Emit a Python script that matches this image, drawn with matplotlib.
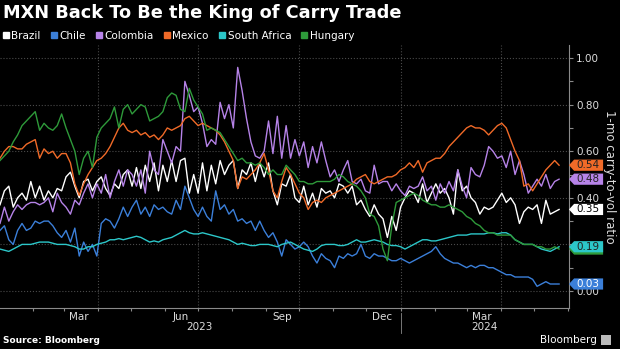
import matplotlib
matplotlib.use('Agg')
import matplotlib.pyplot as plt
import matplotlib.dates as mdates
from matplotlib.lines import Line2D
from matplotlib.patches import Polygon, Rectangle
from matplotlib.ticker import FixedLocator, NullFormatter, FuncFormatter
from matplotlib.transforms import blended_transform_factory
import pandas as pd

# sample dates (every 4 days, Jan 2023 to late May 2024)
dates = pd.date_range('2023-01-02', periods=128, freq='4D')

brazil = [.37, .43, .45, .36, .40, .42, .39, .47, .40, .45, .39, .43, .40, .44, .43, .49,
          .51, .45, .40, .47, .48, .43, .47, .49, .44, .41, .46, .44, .50, .52, .45, .53,
          .44, .54, .47, .55, .43, .54, .47, .56, .47, .56, .57, .42, .50, .42, .55, .43,
          .54, .46, .56, .50, .54, .56, .44, .52, .50, .55, .47, .55, .49, .55, .43, .37,
          .46, .45, .50, .40, .38, .45, .37, .42, .36, .44, .42, .43, .40, .46, .45, .42,
          .45, .37, .39, .35, .32, .37, .33, .31, .23, .32, .26, .36, .40, .43, .42, .38,
          .46, .38, .42, .46, .42, .44, .40, .33, .52, .43, .45, .40, .38, .33, .36, .35,
          .36, .39, .42, .38, .40, .37, .29, .34, .36, .35, .37, .29, .39, .33, .34, .35]

chile = [.26, .28, .22, .20, .26, .29, .26, .27, .30, .29, .30, .30, .28, .25, .23, .26,
         .21, .27, .15, .21, .17, .20, .15, .29, .31, .30, .27, .31, .36, .32, .36, .39,
         .33, .36, .32, .37, .35, .36, .34, .33, .39, .35, .45, .40, .35, .32, .36, .32,
         .30, .43, .35, .37, .33, .35, .30, .31, .29, .30, .26, .30, .26, .23, .25, .21,
         .15, .22, .20, .18, .19, .21, .19, .15, .12, .16, .14, .13, .10, .15, .14, .16,
         .15, .16, .20, .15, .14, .16, .15, .15, .14, .13, .13, .14, .13, .12, .13, .14,
         .15, .16, .17, .19, .16, .14, .13, .12, .12, .11, .10, .11, .10, .11, .11, .10,
         .10, .09, .08, .07, .07, .06, .06, .06, .06, .05, .02, .03, .04, .03, .03, .03]

colombia = [.29, .36, .30, .34, .37, .35, .37, .38, .38, .37, .38, .40, .34, .42, .38, .36,
            .33, .39, .37, .42, .46, .40, .46, .42, .50, .40, .47, .52, .45, .52, .50, .45,
            .52, .42, .60, .52, .50, .65, .60, .55, .62, .60, .90, .84, .77, .79, .72, .62,
            .65, .63, .81, .74, .80, .70, .96, .86, .74, .64, .58, .57, .60, .73, .59, .75,
            .57, .71, .57, .65, .58, .64, .53, .62, .55, .64, .56, .49, .52, .47, .52, .56,
            .47, .46, .48, .43, .42, .54, .46, .47, .47, .43, .46, .43, .41, .45, .44, .45,
            .49, .43, .45, .39, .46, .42, .47, .43, .52, .45, .40, .53, .50, .49, .54, .62,
            .60, .57, .58, .53, .60, .50, .56, .50, .42, .45, .48, .45, .50, .44, .47, .48]

mexico = [.57, .60, .62, .62, .61, .61, .63, .64, .65, .57, .61, .59, .60, .57, .59, .59,
          .55, .46, .41, .46, .50, .53, .56, .57, .59, .62, .66, .70, .72, .69, .68, .69,
          .67, .68, .66, .67, .65, .67, .70, .69, .70, .71, .74, .75, .73, .71, .72, .71,
          .70, .69, .67, .64, .60, .56, .44, .49, .48, .50, .52, .55, .59, .52, .43, .40,
          .47, .53, .50, .46, .42, .40, .35, .38, .39, .38, .40, .41, .42, .43, .44, .45,
          .46, .48, .49, .50, .47, .46, .47, .48, .49, .49, .50, .52, .53, .55, .53, .56,
          .51, .55, .56, .57, .57, .59, .62, .64, .66, .68, .70, .71, .70, .70, .69, .67,
          .69, .71, .72, .70, .65, .60, .56, .45, .46, .43, .46, .49, .52, .54, .56, .54]

south_africa = [.18, .175, .17, .18, .19, .20, .20, .20, .205, .21, .21, .21, .205, .20, .20, .20,
                .195, .19, .18, .18, .19, .19, .20, .205, .21, .22, .22, .225, .22, .225, .23, .235,
                .23, .22, .21, .215, .21, .22, .225, .23, .24, .25, .26, .25, .245, .245, .25, .245,
                .24, .235, .23, .225, .22, .21, .20, .205, .20, .195, .195, .20, .20, .20, .195, .19,
                .20, .205, .21, .20, .19, .18, .175, .17, .18, .195, .20, .20, .20, .195, .195, .20,
                .21, .22, .21, .21, .215, .22, .215, .21, .20, .195, .195, .19, .18, .19, .20, .21,
                .22, .22, .215, .215, .22, .225, .23, .235, .24, .24, .24, .245, .245, .245, .245, .25,
                .25, .245, .25, .25, .24, .22, .21, .20, .20, .20, .19, .18, .175, .17, .18, .19]

hungary = [.56, .58, .60, .64, .67, .71, .73, .75, .77, .69, .72, .70, .69, .71, .76, .70,
           .65, .60, .50, .57, .60, .53, .66, .70, .72, .74, .79, .70, .78, .80, .76, .78,
           .80, .79, .73, .74, .75, .77, .83, .85, .84, .78, .77, .87, .82, .79, .76, .69,
           .70, .69, .68, .65, .62, .59, .56, .57, .55, .55, .54, .55, .53, .50, .52, .50,
           .50, .54, .52, .50, .47, .47, .46, .46, .47, .47, .47, .47, .48, .50, .49, .47,
           .46, .45, .43, .40, .33, .32, .28, .18, .13, .28, .38, .39, .40, .41, .42, .41,
           .39, .38, .37, .37, .36, .36, .37, .36, .35, .34, .32, .31, .29, .28, .26, .25,
           .25, .24, .24, .24, .24, .22, .21, .20, .20, .20, .19, .19, .18, .18, .19, .18]

names = ['Brazil', 'Chile', 'Colombia', 'Mexico', 'South Africa', 'Hungary']
colors = ['#ffffff', '#3b7fd9', '#b683e8', '#f06a28', '#2cc7c9', '#2e9a3a']
tag_text = ['black', 'white', '#222222', '#222222', '#222222', None]
series = [brazil, chile, colombia, mexico, south_africa, hungary]

grid_c = '#4a4a4a'
axis_c = '#8a8a8a'
text_c = '#dddddd'

fig = plt.figure(figsize=(6.2, 3.49), dpi=100, facecolor='black')
ax = fig.add_axes([0, 0.1175, 0.9177, 0.7535])
ax.set_facecolor('black')

for s, c in zip(series, colors):
    ax.plot(dates, s, color=c, lw=1.0)

ax.set_xlim(pd.Timestamp('2023-01-02'), pd.Timestamp('2024-06-02'))
ax.set_ylim(-0.073, 1.056)

# y axis on the right (0.20 sits under the South Africa tag, so leave it blank)
ax.yaxis.tick_right()
ax.yaxis.set_label_position('right')
ax.yaxis.set_major_locator(FixedLocator([0, .2, .4, .6, .8, 1.0]))
ax.yaxis.set_minor_locator(FixedLocator([.1, .3, .5, .7, .9]))
ax.yaxis.set_major_formatter(FuncFormatter(lambda v, p: '' if abs(v - .2) < 1e-6 else f'{v:.2f}'))
ax.tick_params(axis='y', which='both', colors=axis_c, labelcolor=text_c,
               labelsize=7.5, length=3, width=0.8, pad=2)
ax.set_ylabel('1-mo carry-to-vol ratio', rotation=270, color=text_c,
              fontsize=8.5, labelpad=12)

# x axis: month ticks, labels centred mid-month
ax.xaxis.set_major_locator(mdates.MonthLocator())
ax.xaxis.set_major_formatter(NullFormatter())
ax.xaxis.set_minor_locator(mdates.MonthLocator(bymonth=[3, 6, 9, 12], bymonthday=15))
ax.xaxis.set_minor_formatter(mdates.DateFormatter('%b'))
ax.tick_params(axis='x', which='major', colors=axis_c, length=2.5, width=0.8)
ax.tick_params(axis='x', which='minor', length=0, labelcolor=text_c,
               labelsize=7.5, pad=3)

for side in ['left', 'top']:
    ax.spines[side].set_visible(False)
for side in ['right', 'bottom']:
    ax.spines[side].set_color(axis_c)
    ax.spines[side].set_linewidth(0.8)

ax.yaxis.grid(True, which='major', ls=':', color=grid_c, lw=0.8)
for d in pd.date_range('2023-04-01', '2024-04-01', freq='3MS'):
    ax.axvline(d, ls=':', color=grid_c, lw=0.8, zorder=0)

# year labels under the month labels
xt = blended_transform_factory(ax.transData, ax.transAxes)
ax.text(pd.Timestamp('2023-07-02'), -0.072, '2023', transform=xt, ha='center',
        va='center', color=text_c, fontsize=7.5)
ax.text(pd.Timestamp('2024-03-17'), -0.072, '2024', transform=xt, ha='center',
        va='center', color=text_c, fontsize=7.5)
ax.plot([pd.Timestamp('2024-01-01')] * 2, [-0.02, -0.095], transform=xt,
        color=axis_c, lw=0.6, clip_on=False)

# last-value tags on the right axis
yt = blended_transform_factory(ax.transAxes, ax.transData)
order = [1, 5, 4, 0, 2, 3]
for i in order:
    v = series[i][-1]
    h = 0.024
    pts = [(1.0, v), (1.009, v + h), (1.06, v + h), (1.06, v - h), (1.009, v - h)]
    ax.add_patch(Polygon(pts, closed=True, transform=yt, facecolor=colors[i],
                         edgecolor='none', clip_on=False, zorder=5))
    if tag_text[i]:
        ax.text(1.034, v, f'{v:.2f}', transform=yt, ha='center', va='center',
                color=tag_text[i], fontsize=7.5, zorder=6, clip_on=False)

# title, legend, footer
fig.text(0.005, 0.962, 'MXN Back To Be the King of Carry Trade', color='white',
         fontsize=12.8, fontweight='bold', va='center')
handles = [Line2D([], [], marker='s', ls='', color=c, markersize=5) for c in colors]
fig.legend(handles, names, loc='center left', bbox_to_anchor=(0.003, 0.897), ncol=6,
           frameon=False, fontsize=7.5, labelcolor='white', handlelength=0.7,
           handletextpad=0.2, columnspacing=0.9, borderaxespad=0, borderpad=0)

fig.text(0.005, 0.025, 'Source: Bloomberg', color='white', fontsize=6.5,
         fontweight='bold', va='center')
fig.text(0.963, 0.025, 'Bloomberg', color='white', fontsize=7.5, ha='right', va='center')
fig.patches.append(Rectangle((0.969, 0.012), 0.016, 0.028, transform=fig.transFigure,
                             facecolor='#bbbbbb', edgecolor='none'))

fig.savefig('out.png', dpi=100, facecolor='black')
